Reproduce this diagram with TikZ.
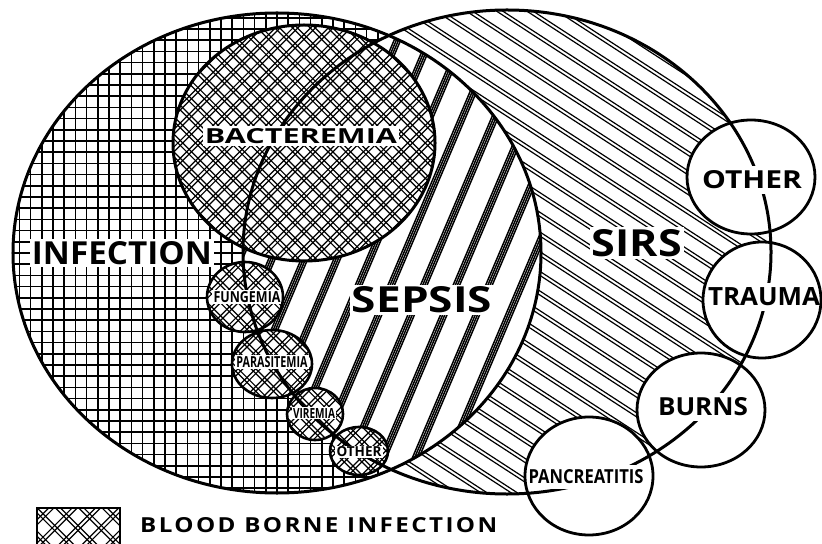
\documentclass[tikz,border=0pt]{standalone}
\usepackage{fontspec}
\setmainfont{Open Sans}
\newfontfamily\spacedfont[LetterSpace=10]{Open Sans}
\usepackage{graphicx}
\newcommand\fitlbl[3]{\resizebox{#1bp}{#2bp}{\bfseries #3}}
\newcommand\hatchset[7]{%
  \begin{scope}[rotate around={#1:(#3,#4)}]
    \foreach \i in {-#5,...,#5}{%
      \foreach \o in {#6}{%
        \draw[line width=#7bp] (#3-700,#4+\i*#2+\o) -- (#3+700,#4+\i*#2+\o);
      }}
  \end{scope}}
\begin{document}
\begin{tikzpicture}[x=1bp,y=-1bp,
  infE/.style={insert path={(277,253) ellipse [x radius=264bp, y radius=240bp]}},
  sirsE/.style={insert path={(507,252) ellipse [x radius=264bp, y radius=242bp]}},
  bactE/.style={insert path={(304,143) ellipse [x radius=131bp, y radius=118bp]}},
  smallE/.style={insert path={(245,297) ellipse [x radius=38bp, y radius=35bp]
                               (272,364) ellipse [x radius=40bp, y radius=34bp]
                               (315,414) ellipse [x radius=28bp, y radius=26bp]
                               (359,451) ellipse [x radius=29bp, y radius=24bp]}},
  rightE/.style={insert path={(751,177) ellipse [x radius=64bp, y radius=57bp]
                               (762,300) ellipse [x radius=59bp, y radius=58bp]
                               (701,410) ellipse [x radius=64bp, y radius=57bp]
                               (589,476) ellipse [x radius=64bp, y radius=59bp]}},
  outl/.style={draw=black, line width=3bp},
  lab/.style={fill=white, inner sep=2bp, text=black},
  rlab/.style={fill=white, inner xsep=1bp, inner ysep=5bp, text=black}
]
\useasboundingbox (0,0) rectangle (822,544);
\fill[white] (0,0) rectangle (822,544);
% SIRS hatching
\begin{scope}
  \clip[sirsE];
  \hatchset{-33}{16.5}{507}{252}{20}{-1.7,1.7}{1.2}
\end{scope}
% Infection grid
\fill[white, infE];
\begin{scope}
  \clip[infE];
  \hatchset{0}{11.2}{277}{253}{24}{0}{1.7}
  \hatchset{90}{11.2}{277}{253}{26}{0}{1.7}
\end{scope}
% Sepsis stripes (intersection)
\begin{scope}
  \clip[infE];
  \clip[sirsE];
  \fill[white] (0,0) rectangle (822,544);
  \hatchset{67}{30}{480}{383}{13}{-3,-1,1,3}{1.5}
\end{scope}
% Bacteremia crosshatch
\fill[white, bactE];
\begin{scope}
  \clip[bactE];
  \hatchset{45}{12.5}{304}{143}{13}{-1.7,1.7}{1.2}
  \hatchset{-45}{12.5}{304}{143}{13}{-1.7,1.7}{1.2}
\end{scope}
% small blood-borne circles
\fill[white, smallE];
\begin{scope}
  \clip[smallE];
  \hatchset{45}{12.5}{300}{380}{12}{-1.7,1.7}{1.2}
  \hatchset{-45}{12.5}{300}{380}{12}{-1.7,1.7}{1.2}
\end{scope}
% right circles
\fill[white, rightE];
% legend box
\coordinate (legA) at (37,508);
\coordinate (legB) at (120,548);
\begin{scope}
  \clip (legA) rectangle (legB);
  \hatchset{45}{16.5}{78}{528}{4}{-1.8,1.8}{1.2}
  \hatchset{-45}{16.5}{78}{528}{4}{-1.8,1.8}{1.2}
\end{scope}
\draw[line width=2.5bp] (legA) rectangle (legB);
% main outlines
\draw[outl, infE];
\draw[outl, sirsE];
% labels
\node[lab] (tInf) at (122,253) {\fitlbl{180}{23}{INFECTION}};
\node[lab] (tBact) at (301,136) {\fitlbl{192}{15}{BACTEREMIA}};
\node[lab] (tSep) at (422,300) {\fitlbl{140}{26}{SEPSIS}};
\node[lab] (tSirs) at (637,243) {\fitlbl{90}{27}{SIRS}};
\node[lab, inner sep=1.2bp] (tFung) at (247,297) {\fitlbl{67}{11}{FUNGEMIA}};
\node[lab, inner sep=1.2bp] (tPara) at (272,362) {\fitlbl{71}{11}{PARASITEMIA}};
\node[lab, inner sep=1.2bp] (tVir) at (314,413) {\fitlbl{42}{10}{VIREMIA}};
\node[lab, inner sep=1.2bp] (tOthS) at (359,452) {\fitlbl{45}{10}{OTHER}};
\node[rlab] (tOth) at (752,180) {\fitlbl{100}{18}{OTHER}};
\node[rlab] (tTrau) at (764,297) {\fitlbl{112}{18}{TRAUMA}};
\node[rlab] (tBurn) at (703,407) {\fitlbl{90}{18}{BURNS}};
\node[rlab] (tPanc) at (586,477) {\fitlbl{115}{14}{PANCREATITIS}};
\node[anchor=west, inner sep=0] (tLeg) at (140,525.5)
  {\resizebox{357bp}{15bp}{\spacedfont\bfseries BLOOD BORNE INFECTION}};
% circle outlines
\draw[outl, bactE];
\draw[draw=black, line width=2.6bp, smallE];
\draw[draw=black, line width=2.8bp, rightE];
\end{tikzpicture}
\end{document}
